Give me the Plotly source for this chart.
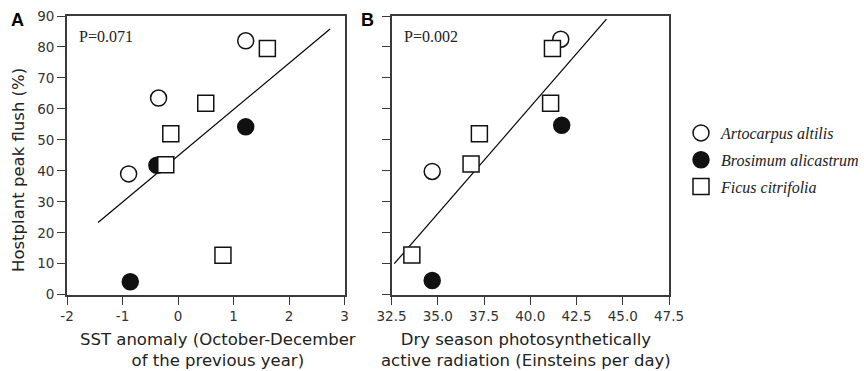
import plotly.graph_objects as go

# ---- data ----
species = ["Artocarpus altilis", "Brosimum alicastrum", "Ficus citrifolia"]

# Panel A: SST anomaly vs hostplant peak flush
a_art_x = [-0.89, -0.35, 1.22]
a_art_y = [39, 63.5, 82]
a_bro_x = [-0.86, -0.38, 1.22]
a_bro_y = [4.2, 41.8, 54.2]
a_fic_x = [1.61, 0.50, -0.13, -0.22, 0.81]
a_fic_y = [79.5, 61.8, 52, 42, 12.7]
fitA_x = [-1.44, 2.74]
fitA_y = [23.3, 85.8]

# Panel B: dry-season PAR vs hostplant peak flush
b_art_x = [34.7, 41.65]
b_art_y = [39.8, 82.5]
b_bro_x = [34.7, 41.7]
b_bro_y = [4.6, 54.7]
b_fic_x = [41.2, 41.1, 37.25, 36.8, 33.6]
b_fic_y = [79.5, 61.8, 52, 42.2, 12.8]
fitB_x = [32.65, 44.12]
fitB_y = [10.0, 89.0]

xticksA = [-2, -1, 0, 1, 2, 3]
xlabelsA = ["-2", "-1", "0", "1", "2", "3"]
xticksB = [32.5, 35.0, 37.5, 40.0, 42.5, 45.0, 47.5]
xlabelsB = ["32.5", "35.0", "37.5", "40.0", "42.5", "45.0", "47.5"]
yticks = [0, 10, 20, 30, 40, 50, 60, 70, 80, 90]
ylabels = ["0", "10", "20", "30", "40", "50", "60", "70", "80", "90"]

W, H = 864, 371
def px(x):
    return x / W
def py(y):
    return 1 - y / H

AX_COLOR = "#3a3a3a"
TICK_FONT = dict(family="DejaVu Sans", size=13.5, color="#333333")

styles = [
    dict(symbol="circle", color="white"),
    dict(symbol="circle", color="#111111"),
    dict(symbol="square", color="white"),
]

fig = go.Figure()

panelA = [(a_art_x, a_art_y), (a_bro_x, a_bro_y), (a_fic_x, a_fic_y)]
panelB = [(b_art_x, b_art_y), (b_bro_x, b_bro_y), (b_fic_x, b_fic_y)]

fig.add_trace(go.Scatter(x=fitA_x, y=fitA_y, mode="lines", line=dict(color="black", width=1.2),
                         xaxis="x", yaxis="y", showlegend=False, hoverinfo="skip"))
fig.add_trace(go.Scatter(x=fitB_x, y=fitB_y, mode="lines", line=dict(color="black", width=1.2),
                         xaxis="x2", yaxis="y2", showlegend=False, hoverinfo="skip"))

for i, (x, y) in enumerate(panelA):
    st = styles[i]
    fig.add_trace(go.Scatter(
        x=x, y=y, mode="markers", name=species[i], legendgroup=species[i],
        marker=dict(symbol=st["symbol"], size=16, color=st["color"],
                    line=dict(color="#111111", width=1.5)),
        xaxis="x", yaxis="y", showlegend=True))
for i, (x, y) in enumerate(panelB):
    st = styles[i]
    fig.add_trace(go.Scatter(
        x=x, y=y, mode="markers", name=species[i], legendgroup=species[i],
        marker=dict(symbol=st["symbol"], size=16, color=st["color"],
                    line=dict(color="#111111", width=1.5)),
        xaxis="x2", yaxis="y2", showlegend=False))

common = dict(showline=True, linecolor=AX_COLOR, linewidth=1.8, mirror=True,
              ticks="outside", ticklen=8, tickwidth=1.3, tickcolor=AX_COLOR,
              showgrid=False, zeroline=False, tickfont=TICK_FONT, automargin=False)

fig.update_layout(
    template="none",
    width=W, height=H,
    margin=dict(l=0, r=0, t=0, b=0, pad=0, autoexpand=False),
    paper_bgcolor="white", plot_bgcolor="white",
    xaxis=dict(common, domain=[px(67), px(344.5)], range=[-2, 3],
               tickvals=xticksA, ticktext=xlabelsA, anchor="y"),
    yaxis=dict(common, domain=[py(294.7), py(16)], range=[0, 90],
               tickvals=yticks, ticktext=ylabels, anchor="x"),
    xaxis2=dict(common, domain=[px(391.5), px(669)], range=[32.5, 47.5],
                tickvals=xticksB, ticktext=xlabelsB, anchor="y2"),
    yaxis2=dict(common, domain=[py(294.7), py(16)], range=[0, 90],
                tickvals=yticks, showticklabels=False, anchor="x2"),
    legend=dict(x=px(681), y=py(116), xanchor="left", yanchor="top",
                font=dict(family="Liberation Serif", size=16, color="#222222", style="italic"),
                tracegroupgap=3, bgcolor="rgba(0,0,0,0)"),
    showlegend=True,
)

ann_font = dict(family="DejaVu Sans", size=16.5, color="#222222")
fig.add_annotation(x=px(218), y=py(350), xref="paper", yref="paper",
                   text="SST anomaly (October-December<br>of the previous year)",
                   showarrow=False, font=ann_font, xanchor="center", yanchor="middle")
fig.add_annotation(x=px(526), y=py(350), xref="paper", yref="paper",
                   text="Dry season photosynthetically<br>active radiation (Einsteins per day)",
                   showarrow=False, font=ann_font, xanchor="center", yanchor="middle")
fig.add_annotation(x=px(18), y=py(170), xref="paper", yref="paper",
                   text="Hostplant peak flush (%)", textangle=-90,
                   showarrow=False, font=ann_font, xanchor="center", yanchor="middle")
fig.add_annotation(x=px(17), y=py(20), xref="paper", yref="paper", text="<b>A</b>",
                   showarrow=False, font=dict(family="Liberation Sans", size=18, color="black"),
                   xanchor="center", yanchor="middle")
fig.add_annotation(x=px(367), y=py(20), xref="paper", yref="paper", text="<b>B</b>",
                   showarrow=False, font=dict(family="Liberation Sans", size=18, color="black"),
                   xanchor="center", yanchor="middle")
fig.add_annotation(x=px(77), y=py(37), xref="paper", yref="paper", text="P=0.071",
                   showarrow=False, font=dict(family="Liberation Serif", size=16, color="#222222"),
                   xanchor="left", yanchor="middle")
fig.add_annotation(x=px(402), y=py(36), xref="paper", yref="paper", text="P=0.002",
                   showarrow=False, font=dict(family="Liberation Serif", size=16, color="#222222"),
                   xanchor="left", yanchor="middle")

fig.write_html("out.html")
